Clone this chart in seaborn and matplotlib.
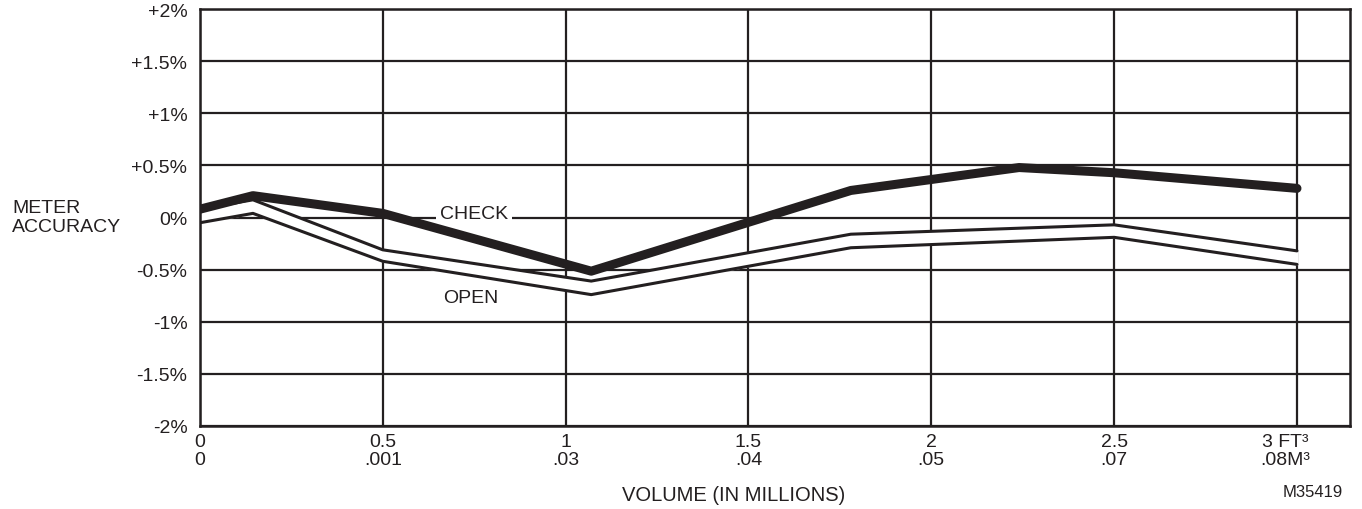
import pandas as pd
import matplotlib
matplotlib.use("Agg")
import matplotlib.pyplot as plt
import matplotlib.transforms as mtransforms
import seaborn as sns

# data
check_x = [0, 0.145, 0.5, 1.07, 1.78, 2.24, 2.5, 3.0]
check_y = [0.08, 0.21, 0.04, -0.515, 0.26, 0.48, 0.43, 0.28]

open_x = [0, 0.145, 0.5, 1.07, 1.78, 2.5, 3.0]
open_upper = [0.08, 0.17, -0.31, -0.61, -0.16, -0.07, -0.32]
open_lower = [-0.05, 0.04, -0.42, -0.74, -0.29, -0.19, -0.45]

x_ticks = [0, 0.5, 1, 1.5, 2, 2.5, 3]
x_labels = ["0\n0", "0.5\n.001", "1\n.03", "1.5\n.04", "2\n.05", "2.5\n.07", "3 FT³\n.08M³"]
y_ticks = [-2, -1.5, -1, -0.5, 0, 0.5, 1, 1.5, 2]
y_labels = ["-2%", "-1.5%", "-1%", "-0.5%", "0%", "+0.5%", "+1%", "+1.5%", "+2%"]

ink = "#231f20"

sns.set_style("white")
plt.rcParams["font.family"] = ["Liberation Sans", "DejaVu Sans"]
plt.rcParams["font.size"] = 14

check_df = pd.DataFrame({"x": check_x, "y": check_y})
open_df = pd.DataFrame({"x": open_x, "upper": open_upper, "lower": open_lower})

fig = plt.figure(figsize=(13.62, 5.10), dpi=100)
ax = fig.add_axes([0.1468, 0.163, 0.8444, 0.817])

# grid
for yv in y_ticks:
    ax.axhline(yv, color=ink, lw=1.6, zorder=1)
for xv in x_ticks:
    ax.axvline(xv, color=ink, lw=1.6, zorder=1)

# OPEN: hollow band
ax.fill_between(open_df["x"], open_df["lower"], open_df["upper"], color="white", zorder=2)
sns.lineplot(data=open_df, x="x", y="upper", color=ink, lw=2.2, ax=ax, zorder=3)
sns.lineplot(data=open_df, x="x", y="lower", color=ink, lw=2.2, ax=ax, zorder=3)

# CHECK: thick line
sns.lineplot(data=check_df, x="x", y="y", color=ink, lw=6.5, ax=ax, zorder=5)

ax.text(0.75, 0.04, "CHECK", ha="center", va="center", fontsize=14, color=ink,
        bbox=dict(facecolor="white", edgecolor="none", pad=3), zorder=4)
ax.text(0.74, -0.77, "OPEN", ha="center", va="center", fontsize=14, color=ink, zorder=4)

ax.set_xlim(0, 3.145)
ax.set_ylim(-2, 2)
ax.set_xticks(x_ticks)
ax.set_xticklabels(x_labels, linespacing=1.1)
ax.set_yticks(y_ticks)
ax.set_yticklabels(y_labels)
ax.tick_params(axis="both", length=0, colors=ink, labelsize=14)
ax.tick_params(axis="y", pad=9)
ax.tick_params(axis="x", pad=5)
ax.set_xlabel("")
ax.set_ylabel("")
for s in ax.spines.values():
    s.set_color(ink)
    s.set_linewidth(1.8)

# last x label sits a little left of its gridline
last = ax.get_xticklabels()[-1]
last.set_transform(last.get_transform() + mtransforms.ScaledTranslation(-0.12, 0, fig.dpi_scale_trans))

fig.text(12 / 1362, 1 - 218 / 510, "METER\nACCURACY", ha="left", va="center",
         fontsize=14, color=ink, linespacing=1.1)
trans = mtransforms.blended_transform_factory(ax.transData, fig.transFigure)
ax.text(1.46, 1 - 496 / 510, "VOLUME (IN MILLIONS)", ha="center", va="center",
        fontsize=14.5, color=ink, transform=trans)
fig.text(1343 / 1362, 1 - 493 / 510, "M35419", ha="right", va="center",
         fontsize=12, color=ink)

fig.savefig("out.png", dpi=100, facecolor="white")
